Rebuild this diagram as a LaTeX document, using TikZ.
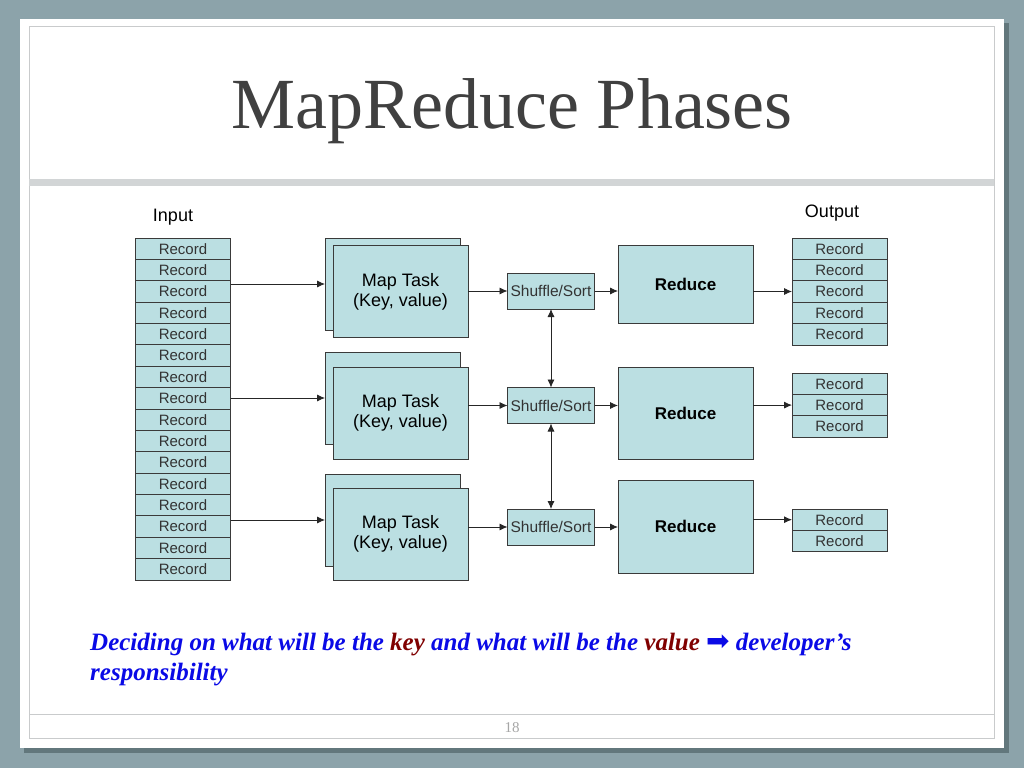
\documentclass[tikz,border=0pt]{standalone}
\usepackage{fontspec}
\setmainfont{Liberation Serif}
\setsansfont{Liberation Sans}
\newfontfamily\arrowfont{DejaVu Sans}
\usetikzlibrary{arrows.meta}
\definecolor{slidebg}{HTML}{8CA3AA}
\definecolor{shadowc}{HTML}{62777C}
\definecolor{boxfill}{HTML}{BBDFE2}
\definecolor{boxline}{HTML}{3A3A3A}
\definecolor{titlegray}{HTML}{404040}
\definecolor{rulegray}{HTML}{C9CBCC}
\definecolor{bargray}{HTML}{D2D5D6}
\definecolor{noteblue}{HTML}{0A0AE6}
\definecolor{notered}{HTML}{800000}

\begin{document}
\begin{tikzpicture}[x=1pt,y=-1pt,
    every node/.style={font=\sffamily,text=black!80},
    box/.style={draw=boxline,fill=boxfill,line width=0.9pt,inner sep=0pt,outer sep=0pt},
    record/.style={box,minimum width=95pt,minimum height=21.4pt,font=\sffamily\fontsize{15}{15}\selectfont},
    maptask/.style={box,minimum width=135pt,minimum height=92pt,align=center,text=black,font=\sffamily\fontsize{18}{20}\selectfont},
    shuffle/.style={box,minimum width=87pt,minimum height=36pt,font=\sffamily\fontsize{15.5}{15.5}\selectfont},
    reducebox/.style={box,minimum width=135pt,text=black,font=\sffamily\bfseries\fontsize{17}{17}\selectfont},
    headlabel/.style={text=black,font=\sffamily\fontsize{18}{18}\selectfont},
    notetext/.style={anchor=base west,inner sep=0pt,text=noteblue,font=\rmfamily\bfseries\itshape\fontsize{25}{30}\selectfont},
    arr/.style={-{Latex[length=8pt,width=7pt]},line width=0.8pt,black!85},
    dblarr/.style={{Latex[length=8pt,width=7pt]}-{Latex[length=8pt,width=7pt]},line width=0.8pt,black!85}]

  % slide background
  \fill[slidebg] (0,0) rectangle (1024,768);
  \fill[shadowc] (24,23) rectangle (1009,753);
  \fill[white] (20,19) rectangle (1004,748);
  \draw[rulegray,line width=1pt] (29,27) rectangle (994,738);
  \fill[bargray] (29,179) rectangle (994,186);
  \draw[rulegray,line width=1pt] (29,714) -- (994,714);

  \node[anchor=base,text=titlegray,font=\rmfamily\fontsize{72}{72}\selectfont] (title) at (512,128) {MapReduce Phases};

  % input and output records
  \node[headlabel] (inlabel) at (173,217) {Input};
  \node[headlabel] (outlabel) at (832,213) {Output};
  \foreach \i in {0,...,15}
    \node[record] (in\i) at (183,{248.7+21.375*\i}) {Record};
  \foreach \i in {0,...,4}
    \node[record] (outA\i) at (839.5,{248.7+21.4*\i}) {Record};
  \foreach \i in {0,1,2}
    \node[record] (outB\i) at (839.5,{383.7+21.4*\i}) {Record};
  \foreach \i in {0,1}
    \node[record] (outC\i) at (839.5,{519.7+21.4*\i}) {Record};

  % map tasks, each with a second sheet behind it
  \foreach \n/\y/\d in {1/291.5/7.5,2/413/15,3/534/14}{
    \node[maptask] (mapb\n) at (392.5,{\y-\d}) {};
    \node[maptask] (map\n) at (400.5,\y) {Map Task\\(Key, value)};
  }

  \node[shuffle] (shuf1) at (551,291) {Shuffle/Sort};
  \node[shuffle] (shuf2) at (551,405.5) {Shuffle/Sort};
  \node[shuffle] (shuf3) at (551,527) {Shuffle/Sort};

  \node[reducebox,minimum height=78pt] (red1) at (685.5,284) {Reduce};
  \node[reducebox,minimum height=92pt] (red2) at (685.5,413) {Reduce};
  \node[reducebox,minimum height=93pt] (red3) at (685.5,526.5) {Reduce};

  \foreach \n in {1,2,3}{
    \draw[arr] (mapb\n.west -| in0.east) -- (mapb\n.west);
    \draw[arr] (shuf\n.west -| map\n.east) -- (shuf\n.west);
    \draw[arr] (shuf\n.east) -- (shuf\n.east -| red\n.west);
  }
  \draw[arr] (red1.east |- outA2.west) -- (outA2.west);
  \draw[arr] (red2.east |- outB1.west) -- (outB1.west);
  \draw[arr] (red3.east |- outC0.west) -- (outC0.west);
  \draw[dblarr] (shuf1.south) -- (shuf2.north);
  \draw[dblarr] (shuf2.south) -- (shuf3.north);

  \node[notetext] (note1) at (90,650) {Deciding on what will be the \textcolor{notered}{key} and what will be the \textcolor{notered}{value} {\arrowfont\upshape\mdseries\fontsize{28}{28}\selectfont ➡} developer’s};
  \node[notetext] (note2) at (90,680) {responsibility};

  \node[text=black!35,font=\rmfamily\fontsize{15}{15}\selectfont] (pagenum) at (512,728) {18};
\end{tikzpicture}
\end{document}
